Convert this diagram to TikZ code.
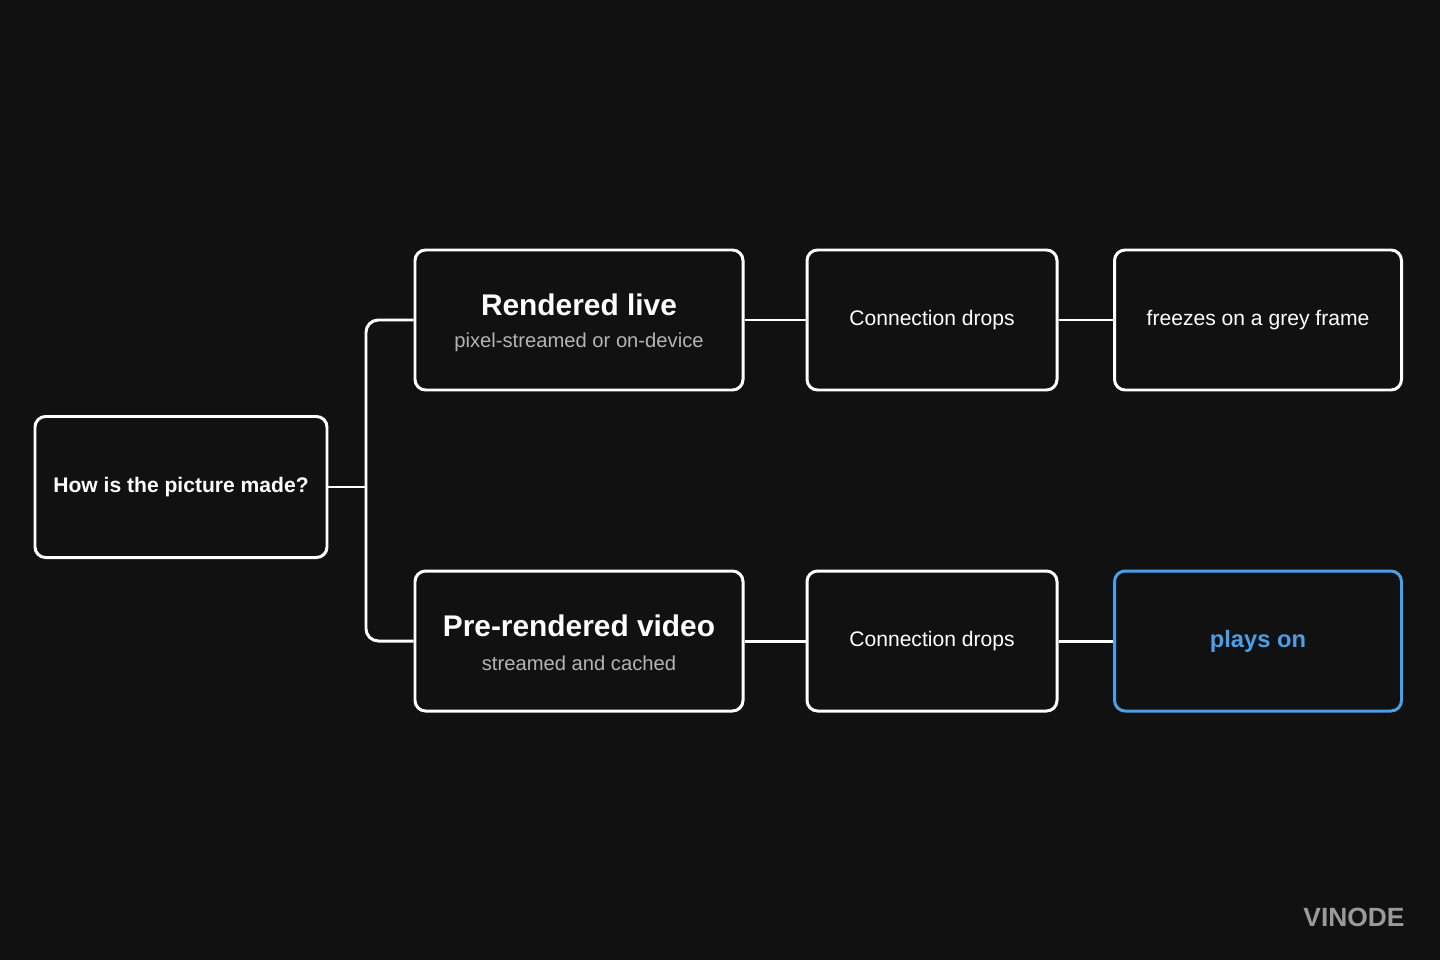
\documentclass[tikz,border=0pt]{standalone}
\usepackage{fontspec}
\setmainfont{Liberation Sans}
\begin{document}
\begin{tikzpicture}[x=0.02cm,y=-0.02cm,
  box/.style={draw=white,line width=1.7pt,rounded corners=6pt,fill=bgc,inner sep=0pt,align=center,text=white},
  conn/.style={draw=white,line width=1.7pt,rounded corners=7pt},
  main/.style={font=\fontsize{12}{14}\selectfont},
  ttl/.style={font=\fontsize{17}{20}\selectfont\bfseries},
  sub/.style={font=\fontsize{11.5}{14}\selectfont,text=subc}]
\definecolor{bgc}{HTML}{111111}
\definecolor{subc}{HTML}{B4B4B4}
\definecolor{bluec}{HTML}{4A9FE8}
\definecolor{logoc}{HTML}{9A9A9A}
\fill[bgc] (0,0) rectangle (1440,960);
\useasboundingbox (0,0) rectangle (1440,960);
\node[box,minimum width=292*0.02cm,minimum height=141*0.02cm,main] (q) at (181,487) {\textbf{How is the picture made?}};
\node[box,minimum width=328*0.02cm,minimum height=140*0.02cm] (rl) at (579,320) {};
\node[ttl,text=white] at (579,305) {Rendered live};
\node[sub] at (579,342) {pixel-streamed or on-device};
\node[box,minimum width=328*0.02cm,minimum height=140*0.02cm] (pr) at (579,641) {};
\node[ttl,text=white] at (579,626) {Pre-rendered video};
\node[sub] at (579,663) {streamed and cached};
\node[box,minimum width=250*0.02cm,minimum height=140*0.02cm,main] (c1) at (932,320) {Connection drops};
\node[box,minimum width=250*0.02cm,minimum height=140*0.02cm,main] (c2) at (932,641) {Connection drops};
\node[box,minimum width=287*0.02cm,minimum height=140*0.02cm,main] (f) at (1258,320) {freezes on a grey frame};
\node[box,draw=bluec,text=bluec,minimum width=287*0.02cm,minimum height=140*0.02cm,font=\fontsize{13.5}{16}\selectfont\bfseries] (p) at (1258,641) {plays on};
\coordinate (j) at (366,487);
\draw[conn] (q.east) -- (j);
\draw[conn] (j) |- (rl.west);
\draw[conn] (j) |- (pr.west);
\draw[conn] (rl.east) -- (c1.west);
\draw[conn] (c1.east) -- (f.west);
\draw[conn] (pr.east) -- (c2.west);
\draw[conn] (c2.east) -- (p.west);
\node[text=logoc,font=\fontsize{15}{18}\selectfont\bfseries] (logo) at (1354,917) {VINODE};
\end{tikzpicture}
\end{document}
